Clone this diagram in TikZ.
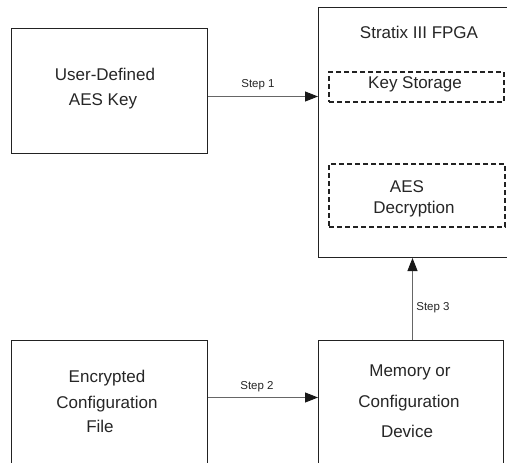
\documentclass[tikz,border=0pt]{standalone}
\usepackage{fontspec}
\setmainfont{Liberation Sans}
\usetikzlibrary{arrows.meta,calc}
\definecolor{boxline}{HTML}{222222}
\definecolor{arrline}{HTML}{666666}
\tikzset{
  box/.style={draw=boxline, line width=1pt, rectangle, inner sep=0pt, anchor=north west},
  dbox/.style={draw=boxline, line width=2pt, dash pattern=on 5pt off 3pt, rectangle, inner sep=0pt, anchor=north west},
  txt/.style={font=\fontsize{17}{20}\selectfont, inner sep=0pt, anchor=base, text=black!85},
  lbl/.style={font=\fontsize{11.5}{13}\selectfont, inner sep=0pt, anchor=base, text=black!85},
  arr/.style={draw=arrline, line width=1pt, -{Triangle[length=13pt,width=10pt,fill=black!90,color=black!90]}}
}
\begin{document}
\begin{tikzpicture}[x=1pt,y=-1pt]
\useasboundingbox (0,0) rectangle (507,463);
\clip (0,0) rectangle (507,463);
\fill[white] (0,0) rectangle (507,463);
% boxes
\node[box, minimum width=196pt, minimum height=125pt] (ud) at (11,28) {};
\node[box, minimum width=200pt, minimum height=250pt] (fpga) at (318,7) {};
\node[dbox, minimum width=175pt, minimum height=30pt] (ks) at (328,71) {};
\node[dbox, minimum width=176pt, minimum height=63pt] (aes) at (328,163) {};
\node[box, minimum width=196pt, minimum height=135pt] (enc) at (11,340) {};
\node[box, minimum width=185pt, minimum height=135pt] (mem) at (318,340) {};
% texts
\node[txt] (t1) at (105,80.5) {User-Defined};
\node[txt] (t2) at (103,105) {AES Key};
\node[txt] (t3) at (419,38.5) {Stratix III FPGA};
\node[txt] (t4) at (415,88) {Key Storage};
\node[txt] (t5) at (407,192) {AES};
\node[txt] (t6) at (414,213) {Decryption};
\node[txt] (t7) at (107,382) {Encrypted};
\node[txt] (t8) at (107,408) {Configuration};
\node[txt] (t9) at (100,432) {File};
\node[txt] (t10) at (410,376) {Memory or};
\node[txt] (t11) at (409,407) {Configuration};
\node[txt] (t12) at (407,437) {Device};
% connectors
\draw[arr] ([yshift=-5.5pt]ud.east) -- ([yshift=-5.5pt]ud.east -| fpga.west);
\draw[arr] ([yshift=10.5pt]enc.east) -- ([yshift=10.5pt]enc.east -| mem.west);
\draw[arr] ([xshift=1.5pt]mem.north) -- ([xshift=1.5pt]mem.north |- fpga.south);
% labels
\node[lbl] (s1) at (258,87.5) {Step 1};
\node[lbl] (s2) at (257,389) {Step 2};
\node[lbl] (s3) at (433,310) {Step 3};
\end{tikzpicture}
\end{document}
